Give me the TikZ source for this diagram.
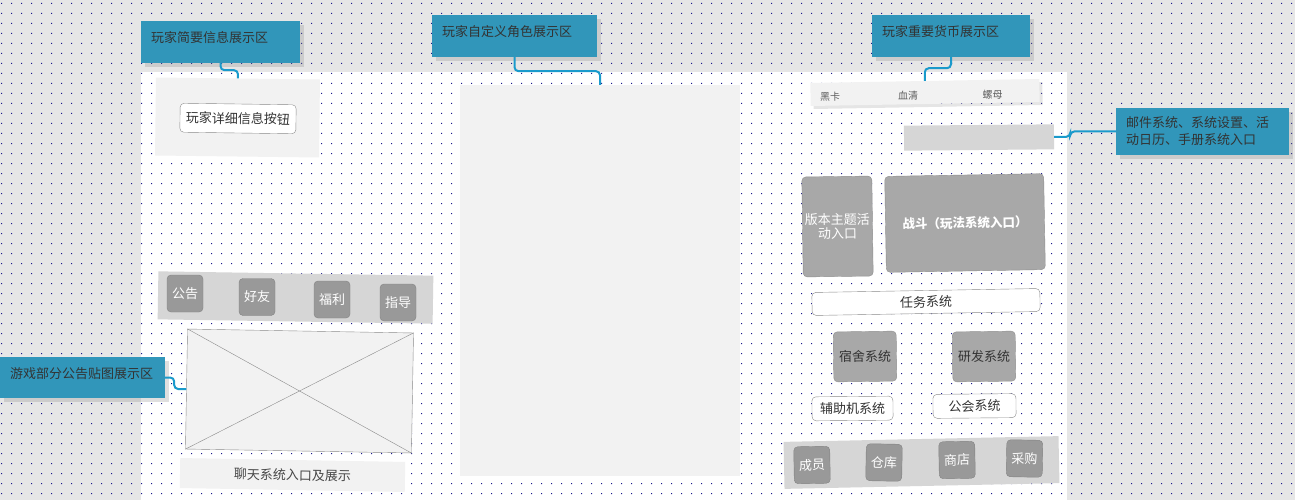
\documentclass[tikz,border=0pt]{standalone}
\usepackage{fontspec}
\setmainfont{Noto Sans CJK SC}
\usetikzlibrary{shadows}
\definecolor{calloutblue}{HTML}{3196BA}
\definecolor{linkblue}{HTML}{1A9ACB}
\definecolor{pagegrey}{HTML}{E6E6E6}
\definecolor{dotblue}{HTML}{1A1A8C}
\definecolor{panelgrey}{HTML}{F2F2F2}
\definecolor{bargrey}{HTML}{D6D6D6}
\definecolor{tilegrey}{HTML}{A8A8A8}
\definecolor{icongrey}{HTML}{999999}
\definecolor{inkgrey}{HTML}{333333}
\definecolor{edgegrey}{HTML}{8A8A8A}

\begin{document}
\begin{tikzpicture}[
    x=1pt,
    y=-1pt,
    callout/.style={fill=calloutblue, text=inkgrey, align=left, inner xsep=10pt, inner ysep=0pt, font=\fontsize{13}{17}\selectfont, drop shadow={shadow xshift=4pt, shadow yshift=-4pt, opacity=0.25}},
    panel/.style={fill=panelgrey, inner sep=0pt},
    bar/.style={fill=bargrey, inner sep=0pt},
    tile/.style={draw=tilegrey!85!black, fill=tilegrey, rounded corners=4pt, inner sep=0pt, align=center, font=\fontsize{13}{14}\selectfont},
    icon/.style={draw=icongrey!85!black, fill=icongrey, rounded corners=4pt, inner sep=0pt, minimum width=36pt, minimum height=37pt, text=white, font=\fontsize{13}{16}\selectfont},
    btn/.style={draw=edgegrey, fill=white, rounded corners=4pt, inner sep=0pt, text=inkgrey, font=\fontsize{13}{16}\selectfont},
    coin/.style={text=inkgrey!80, font=\fontsize{10}{12}\selectfont, inner sep=0pt},
    link/.style={draw=linkblue, line width=2pt, rounded corners=4pt}
]
\useasboundingbox (0,0) rectangle (1295,500);
\fill[pagegrey] (0,0) rectangle (1295,500);
\fill[white] (141,72) rectangle (1067,500);
\fill[dotblue] foreach \x in {1,11,...,1291} { foreach \y in {3,13,...,493} { (\x,\y) rectangle ++(1,1) } };

\node[panel, minimum width=164pt, minimum height=78pt, rotate=-0.7] (infopanel) at (237.5,117.5) {};
\node[btn, minimum width=116pt, minimum height=29pt, rotate=-0.8] (infobtn) at (238,118.5) {玩家详细信息按钮};
\node[panel, minimum width=280pt, minimum height=391pt] (rolepanel) at (600,280.5) {};

\node[panel, minimum width=229pt, minimum height=23pt, rotate=1, drop shadow={shadow xshift=3pt, shadow yshift=-3pt, opacity=0.2}] (coinbar) at (925,92.5) {};
\node[coin] (blackcard) at (830,97) {黑卡};
\node[coin] (serum) at (908,96) {血清};
\node[coin] (nut) at (992.5,95) {螺母};
\node[bar, minimum width=150pt, minimum height=25pt, rotate=0.5] (menubar) at (979,137.5) {};

\node[tile, text=white, minimum width=70pt, minimum height=100pt, rotate=0.8] (eventtile) at (837.5,226.5) {版本主题活\\动入口};
\node[tile, text=white, font=\fontsize{12.5}{15}\selectfont\bfseries, minimum width=159pt, minimum height=96pt, rotate=1] (battletile) at (965,223) {战斗（玩法系统入口）};
\node[btn, minimum width=228pt, minimum height=23pt, rotate=1] (taskbtn) at (926,302) {任务系统};
\node[tile, text=inkgrey, minimum width=63pt, minimum height=50pt, rotate=0.8] (dormtile) at (865,356.5) {宿舍系统};
\node[tile, text=inkgrey, minimum width=63pt, minimum height=50pt, rotate=0.8] (labtile) at (984,356.5) {研发系统};
\node[btn, minimum width=81pt, minimum height=24pt, rotate=0.5] (assistbtn) at (852.5,408.5) {辅助机系统};
\node[btn, minimum width=83pt, minimum height=24pt, rotate=0.5] (guildbtn) at (974.5,406) {公会系统};

\node[bar, minimum width=275pt, minimum height=47pt, rotate=1.2] (guildbar) at (921.5,462.5) {};
\node[icon, rotate=1] (member) at (812,465) {成员};
\node[icon, rotate=-1] (storage) at (884,462.5) {仓库};
\node[icon, rotate=1] (shop) at (957,460) {商店};
\node[icon, rotate=-1] (purchase) at (1024.5,458.5) {采购};

\node[bar, minimum width=275pt, minimum height=48pt, rotate=-0.9] (socialbar) at (295.5,297.5) {};
\node[icon] (notice) at (185,293.5) {公告};
\node[icon] (friend) at (257,297) {好友};
\node[icon] (welfare) at (332,299.5) {福利};
\node[icon] (guide) at (398,302.5) {指导};
\node[panel, draw=edgegrey, minimum width=226pt, minimum height=120pt, rotate=-1] (posterbox) at (299.5,391) {};
\draw[edgegrey] (posterbox.north west) -- (posterbox.south east);
\draw[edgegrey] (posterbox.north east) -- (posterbox.south west);
\node[panel, text=inkgrey!90, font=\fontsize{13}{16}\selectfont, minimum width=225pt, minimum height=30pt, rotate=-1] (chatpanel) at (292.5,475) {聊天系统入口及展示};

\node[callout, text width=139pt, text height=21.5pt, text depth=20.5pt] (briefcallout) at (220.5,42) {玩家简要信息展示区};
\node[callout, text width=145pt, text height=21.5pt, text depth=20.5pt] (rolecallout) at (514.5,36) {玩家自定义角色展示区};
\node[callout, text width=138pt, text height=21.5pt, text depth=20.5pt] (coincallout) at (951,36) {玩家重要货币展示区};
\node[callout, text width=153pt, minimum height=47pt] (menucallout) at (1202.5,131.5) {邮件系统、系统设置、活\\动日历、手册系统入口};
\node[callout, text width=145pt, text height=21pt, text depth=20pt] (noticecallout) at (82.5,377.5) {游戏部分公告贴图展示区};

\draw[link] (briefcallout.south) -- ++(0,7) -| (infopanel.north);
\draw[link] (rolecallout.south) -- ++(0,14) -| (rolepanel.north);
\draw[link] (coincallout.south) -- ++(0,11) -| (coinbar.north);
\draw[link] (menubar.east) -- ++(16,0) |- (menucallout.west);
\draw[link] (noticecallout.east) -- ++(9,0) |- (posterbox.west);
\end{tikzpicture}
\end{document}
